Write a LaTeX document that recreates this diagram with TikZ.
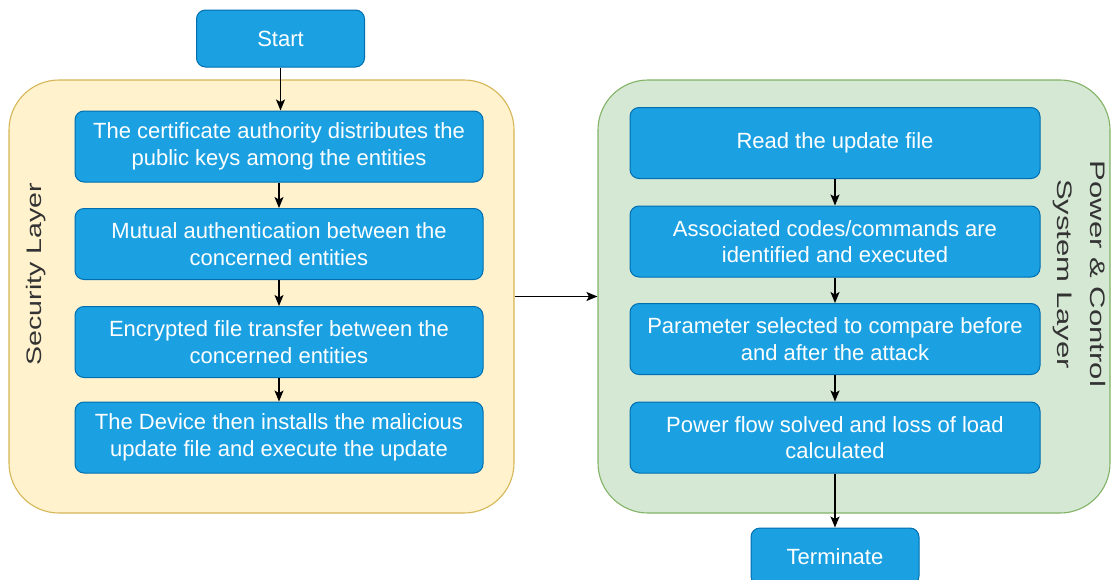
\documentclass[tikz,border=0pt]{standalone}
\usepackage{fontspec}
\setmainfont{Liberation Sans}
\newfontfamily\seclabelfont{Liberation Sans}[FakeStretch=1.36]
\newfontfamily\pwrlabelfont{Liberation Sans}[FakeStretch=1.48]
\usetikzlibrary{arrows.meta}

\definecolor{boxblue}{HTML}{1BA1E2}
\definecolor{boxedge}{HTML}{006EAF}
\definecolor{secfill}{HTML}{FFF2CC}
\definecolor{secedge}{HTML}{D6B656}
\definecolor{pwrfill}{HTML}{D5E8D4}
\definecolor{pwredge}{HTML}{82B366}

\tikzset{
  stepbox/.style={rectangle, rounded corners=9pt, fill=boxblue, draw=boxedge,
    line width=1pt, text=white, align=center, inner sep=0pt,
    font=\fontsize{22}{26.5}\selectfont,
    minimum width=408pt, minimum height=71pt},
  endbox/.style={stepbox, minimum width=168pt, minimum height=57pt},
  layerbox/.style={rectangle, rounded corners=50pt, line width=1.1pt,
    inner sep=0pt, minimum height=433pt},
  flow/.style={line width=1.4pt, -{Stealth[length=11pt,width=9pt,inset=2.5pt]}}
}

\begin{document}
\begin{tikzpicture}[x={(1pt,0pt)}, y={(0pt,-1pt)}]
\useasboundingbox (0,0) rectangle (1111,579);
\clip (0,0) rectangle (1111,579);
\fill[white] (0,0) rectangle (1111,579);

% layer containers
\node[layerbox, fill=secfill, draw=secedge, minimum width=505pt] (sec) at (261.5,296.5) {};
\node[layerbox, fill=pwrfill, draw=pwredge, minimum width=512pt] (pwr) at (854,296.5) {};

% layer labels
\node[rotate=90, inner sep=0pt, text=black!80,
      font=\seclabelfont\fontsize{21}{25}\selectfont] (seclbl) at (36,274) {Security Layer};
\node[rotate=-90, inner sep=0pt, align=center, text=black!80,
      font=\pwrlabelfont\fontsize{21}{33}\selectfont] (pwrlbl) at (1079,274)
  {Power \& Control\\System Layer};

% terminals
\node[endbox] (start) at (280.5,38.5) {Start};
\node[endbox] (term) at (835,556.5) {Terminate};

% security layer steps
\node[stepbox] (s1) at (279,146.5) {The certificate authority distributes the\\public keys among the entities};
\node[stepbox] (s2) at (279,244) {Mutual authentication between the\\concerned entities};
\node[stepbox] (s3) at (279,342) {Encrypted file transfer between the\\concerned entities};
\node[stepbox] (s4) at (279,437.5) {The Device then installs the malicious\\update file and execute the update};

% power & control system layer steps
\node[stepbox, minimum width=410pt] (p1) at (835,143) {Read the update file};
\node[stepbox, minimum width=410pt] (p2) at (835,241.5) {Associated codes/commands are\\identified and executed};
\node[stepbox, minimum width=410pt] (p3) at (835,339) {Parameter selected to compare before\\and after the attack};
\node[stepbox, minimum width=410pt] (p4) at (835,437.5) {Power flow solved and loss of load\\calculated};

% connectors
\draw[flow] (start.south) -- (start.south |- s1.north);
\draw[flow] (s1) -- (s2);
\draw[flow] (s2) -- (s3);
\draw[flow] (s3) -- (s4);
\draw[flow] (sec) -- (pwr);
\draw[flow] (p1) -- (p2);
\draw[flow] (p2) -- (p3);
\draw[flow] (p3) -- (p4);
\draw[flow] (p4) -- (term);
\end{tikzpicture}
\end{document}
